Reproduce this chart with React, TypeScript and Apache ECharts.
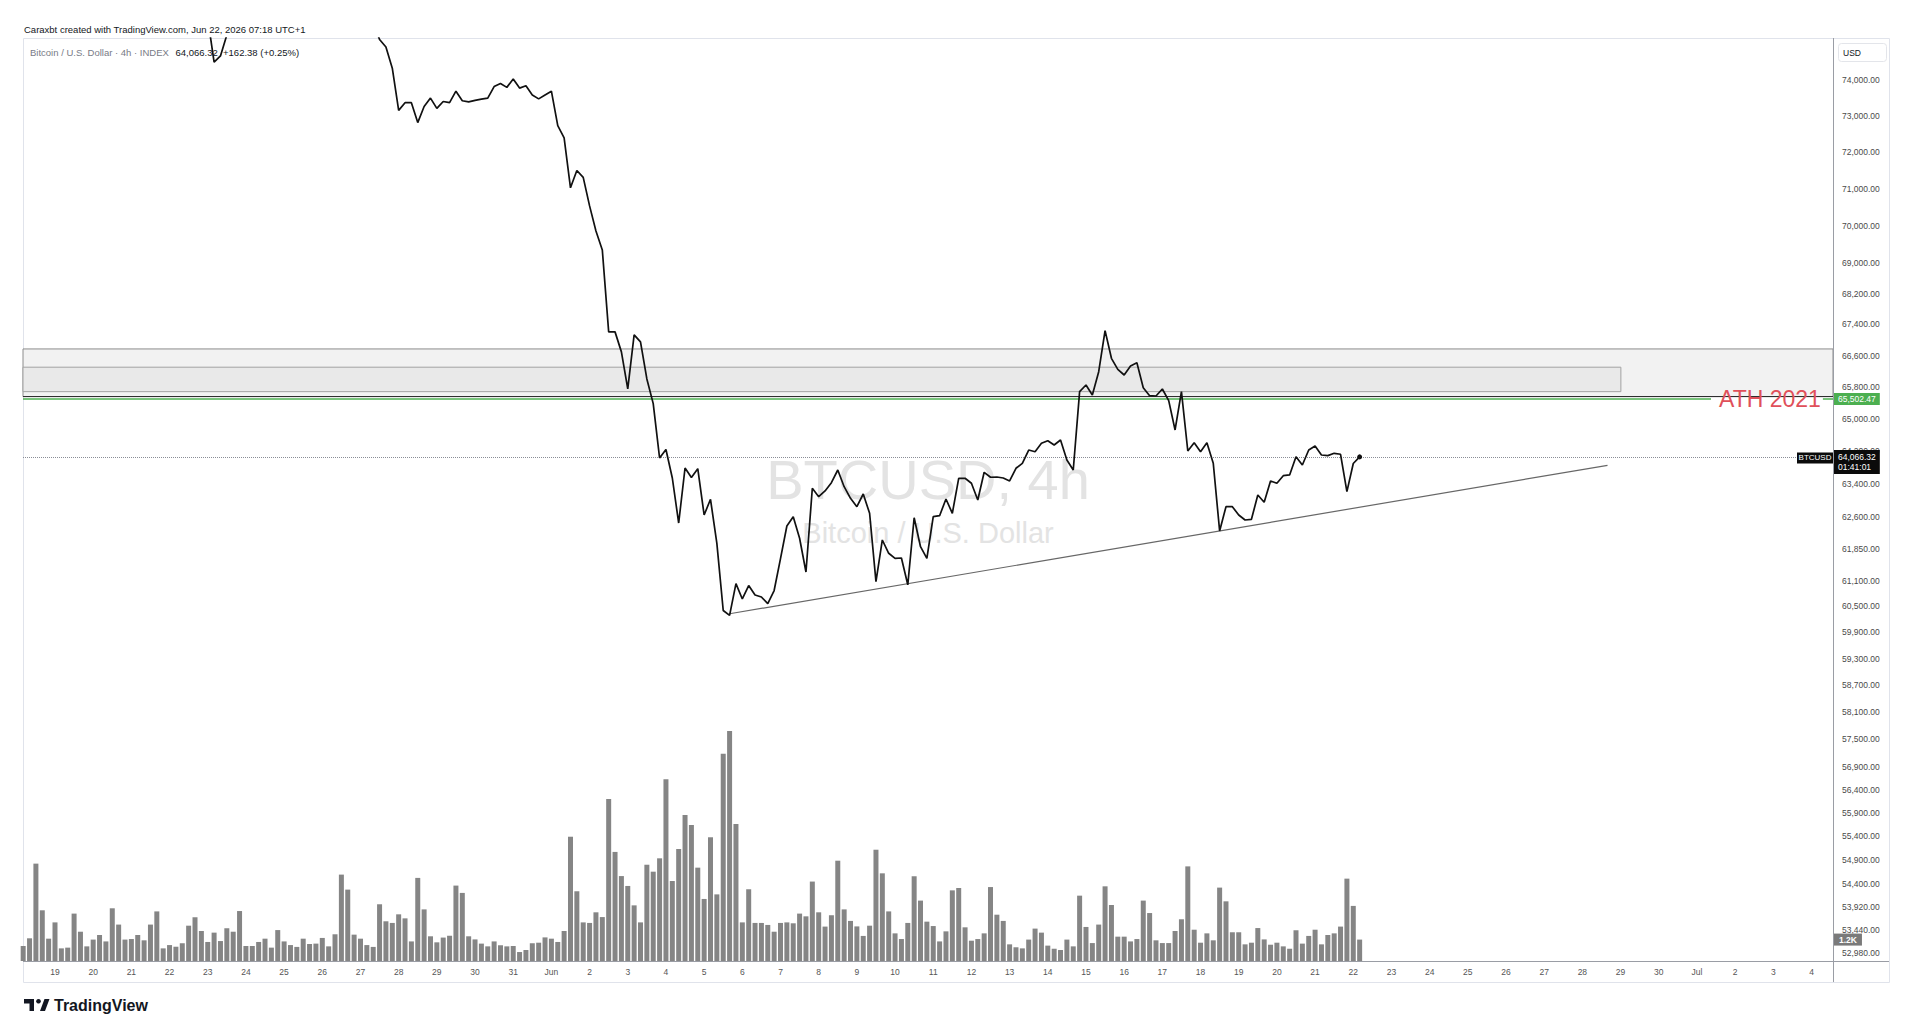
import React, { useEffect, useRef } from "react";
import * as echarts from "echarts";

const FONT = "'Liberation Sans', Arial, sans-serif";

// ---- time axis: days counted from May 18 00:00 (UTC+1); label sits on first 4h bar of the day (01:00)
const dayLabels = [
  "19", "20", "21", "22", "23", "24", "25", "26", "27", "28", "29", "30", "31",
  "Jun", "2", "3", "4", "5", "6", "7", "8", "9", "10", "11", "12", "13", "14", "15", "16",
  "17", "18", "19", "20", "21", "22", "23", "24", "25", "26", "27", "28", "29", "30",
  "Jul", "2", "3", "4",
];
const labelHourOffset = 1 / 24;
const barHours = 4;
const lastBarDay = 35 + 5 / 24; // Jun 22, 05:00

// ---- right price scale tick labels (log scale)
const priceTicks = [
  74000, 73000, 72000, 71000, 70000, 69000, 68200, 67400, 66600, 65800, 65000, 64200,
  63400, 62600, 61850, 61100, 60500, 59900, 59300, 58700, 58100, 57500, 56900, 56400,
  55900, 55400, 54900, 54400, 53920, 53440, 52980,
];
const priceMin = 52818;
const priceMax = 75214;

// ---- 4h closes, BTCUSD
const closes = [
  76800, 76950, 77200, 77050, 76900, 77100, 77350, 77200, 77000, 76850,
  76700, 76900, 77150, 77300, 77100, 76950, 76800, 76650, 76500, 76700,
  76900, 76750, 76600, 76400, 76550, 76300, 76450, 76200, 76000, 75780,
  74520, 74700, 75300, 75800, 76100, 76350, 76500, 76300, 76600, 76800,
  77000, 76850, 76700, 76900, 77100, 76950, 76800, 76600, 76750, 76500,
  76350, 76500, 76300, 76100, 75900, 75650,
  75171, 74953, 74349, 73157, 73373, 73373, 72817, 73267, 73503, 73213,
  73407, 73373, 73697, 73427, 73396, 73438, 73472, 73503, 73828, 73915,
  73805, 74045, 73785, 73850, 73590, 73481, 73590, 73697, 72730, 72391,
  71020, 71493, 71304, 70530, 69857, 69351, 67208, 67208, 66695, 65756,
  67130, 66950, 66008, 65387, 64039, 64248, 63550, 62464, 63794, 63562,
  63777, 62656, 63034, 61978, 60406, 60293, 61031, 60673, 60985, 60766,
  60719, 60565, 60870, 61616, 62393, 62615, 62100, 61303, 63300, 63097,
  63235, 63436, 63745, 63339, 63058, 62856, 63162, 62697, 61076, 62059,
  61744, 61625, 61632, 61003, 62591, 61900, 61625, 62615, 62639, 63041,
  62697, 63543, 63543, 63422, 63017, 63689, 63568, 63575, 63550, 63478,
  63787, 63909, 64235, 64193, 64401, 64465, 64359, 64482, 63990, 63745,
  65686, 65855, 65603, 66191, 67239, 66531, 66251, 66107, 66336, 66419,
  65787, 65585, 65578, 65754, 65460, 64730, 65686, 64210, 64415, 64193,
  64415, 63909, 62273, 62856, 62856, 62656, 62536, 62553, 63138, 62962,
  63478, 63422, 63606, 63624, 64071, 63868, 64235, 64334, 64113, 64096,
  64154, 64130, 63218, 63903.94, 64066.32,
];

// ---- 4h volume (K)
const volumes = [
  0.82, 1.24, 5.32, 2.77, 1.22, 2.11, 0.69, 0.73, 2.59, 1.6,
  0.8, 1.17, 1.42, 1.07, 2.88, 1.99, 1.17, 1.2, 1.42, 1.13,
  1.99, 2.71, 0.69, 0.87, 0.78, 0.97, 1.93, 2.39, 1.64, 1.04,
  1.55, 1.09, 1.79, 1.6, 2.73, 0.82, 0.82, 1.04, 1.22, 0.73,
  1.69, 1.07, 0.87, 0.77, 1.22, 0.93, 0.95, 1.26, 0.8, 1.46,
  4.72, 3.9, 1.44, 1.22, 0.87, 0.77, 3.1, 2.17, 2.08, 2.55,
  2.33, 1.07, 4.54, 2.82, 1.35, 1.02, 1.28, 1.38, 4.12, 3.72,
  1.35, 1.18, 0.95, 0.8, 1.07, 0.86, 0.8, 0.82, 0.49, 0.6,
  0.97, 1.0, 1.29, 1.22, 1.04, 1.64, 6.79, 3.81, 2.11, 2.08,
  2.66, 2.4, 8.85, 5.96, 4.64, 4.1, 3.04, 2.11, 5.26, 4.88,
  5.61, 9.93, 4.37, 6.12, 7.98, 7.43, 5.1, 3.39, 6.76, 3.64,
  11.33, 12.57, 7.49, 2.11, 3.92, 2.08, 2.08, 1.97, 1.6, 2.08,
  2.11, 2.06, 2.59, 2.44, 4.34, 2.66, 1.88, 2.5, 5.48, 2.82,
  2.19, 1.89, 1.37, 1.93, 6.08, 4.79, 2.71, 1.51, 1.2, 2.08,
  4.63, 3.3, 2.15, 1.91, 1.07, 1.62, 3.86, 3.99, 1.84, 1.11,
  1.2, 1.51, 4.04, 2.53, 2.19, 0.91, 0.75, 0.69, 1.17, 1.77,
  1.55, 0.84, 0.67, 0.6, 1.17, 0.8, 3.57, 1.86, 0.98, 1.99,
  4.08, 3.06, 1.33, 1.33, 1.07, 1.2, 3.3, 2.62, 1.13, 0.98,
  0.98, 1.64, 2.28, 5.17, 1.71, 1.0, 1.51, 1.13, 4.01, 3.26,
  1.57, 1.57, 0.91, 1.0, 1.8, 1.18, 0.89, 1.0, 0.8, 0.67,
  1.68, 0.95, 1.37, 1.71, 0.91, 1.42, 1.51, 1.88, 4.5, 3.01,
  1.17,
];
const volumeMax = 14.26;

// ---- drawings
const zoneOuter = { top: 66770, bottom: 65560 };
const zoneInner = { top: 66305, bottom: 65687, endDay: 42.05 };
const ath2021 = 65502.47;
const athLineEndDay = 44.41;
const athStubStartDay = 47.34;
const trendLine: [number, number][] = [
  [18.708, 60330],
  [41.7, 63860],
];
const lastPrice = 64066.32;
const priceChange = 162.38;
const priceChangePct = 0.25;
const countdown = "01:41:01";

const xMin = 0.2037;
const xMax = 47.605;

const L = Math.log;
const fmt = (p: number) =>
  p.toLocaleString("en-US", { minimumFractionDigits: 2, maximumFractionDigits: 2 });
const barDay = (i: number, n: number) => lastBarDay - ((n - 1 - i) * barHours) / 24;

function buildOption() {
  const n = closes.length;
  const priceData = closes.map((p, i) =>
    i === n - 1
      ? { value: [barDay(i, n), L(p)], symbol: "circle", symbolSize: 5 }
      : [barDay(i, n), L(p)]
  );
  const volData = volumes.map((v, i) => [barDay(i, volumes.length), v]);
  const lastVol = volumes[volumes.length - 1];
  const dayTickValues = dayLabels.map((_, i) => i + 1 + labelHourOffset);

  const txt = (
    text: string,
    x: number,
    y: number,
    size: number,
    fill: string,
    extra: any = {}
  ) => ({
    type: "text",
    x,
    y,
    silent: true,
    z: extra.z ?? 10,
    style: {
      text,
      fill,
      fontSize: size,
      fontFamily: extra.family ?? FONT,
      fontWeight: extra.weight ?? "normal",
      align: extra.align ?? "left",
      textAlign: extra.align ?? "left",
      verticalAlign: "middle",
      textVerticalAlign: "middle",
    },
  });

  return {
    animation: false,
    backgroundColor: "#ffffff",
    textStyle: { fontFamily: FONT },
    grid: [
      { left: 23, right: 87, top: 38, bottom: 65 },
      { left: 23, right: 87, top: 700, bottom: 65 },
    ],
    xAxis: [
      {
        type: "value",
        gridIndex: 0,
        min: xMin,
        max: xMax,
        axisLine: { show: false },
        axisTick: { show: false },
        splitLine: { show: false },
        axisLabel: {
          customValues: dayTickValues,
          formatter: (v: number) => dayLabels[Math.round(v - labelHourOffset) - 1] ?? "",
          color: "#555555",
          fontSize: 8.5,
          margin: 6,
          fontFamily: FONT,
        },
      },
      { type: "value", gridIndex: 1, min: xMin, max: xMax, show: false },
    ],
    yAxis: [
      {
        type: "value",
        gridIndex: 0,
        position: "right",
        min: L(priceMin),
        max: L(priceMax),
        axisLine: { show: false },
        axisTick: { show: false },
        splitLine: { show: false },
        axisLabel: {
          customValues: priceTicks.map(L),
          formatter: (v: number) => fmt(Math.exp(v)),
          color: "#4a4a4a",
          fontSize: 8.5,
          margin: 9,
          fontFamily: FONT,
        },
      },
      { type: "value", gridIndex: 1, min: 0, max: volumeMax, show: false },
    ],
    series: [
      {
        name: "zones",
        type: "line",
        xAxisIndex: 0,
        yAxisIndex: 0,
        data: [],
        z: 1,
        silent: true,
        markArea: {
          silent: true,
          data: [
            [
              {
                yAxis: L(zoneOuter.top),
                itemStyle: { color: "#f2f2f2", borderColor: "#8c8c8c", borderWidth: 1 },
              },
              { yAxis: L(zoneOuter.bottom) },
            ],
            [
              {
                xAxis: xMin,
                yAxis: L(zoneInner.top),
                itemStyle: { color: "#e9e9e9", borderColor: "#a3a3a3", borderWidth: 1 },
              },
              { xAxis: zoneInner.endDay, yAxis: L(zoneInner.bottom) },
            ],
          ],
        },
        markLine: {
          silent: true,
          precision: 10,
          symbol: ["none", "none"],
          data: [
            {
              yAxis: L(zoneOuter.bottom),
              lineStyle: { color: "#2e2e2e", width: 1, type: "solid" },
              label: { show: false },
            },
            [
              {
                coord: [xMin, L(ath2021)],
                lineStyle: { color: "#4caf50", width: 1.5, type: "solid" },
                label: {
                  show: true,
                  position: "end",
                  distance: 8,
                  formatter: "ATH 2021",
                  color: "#e0505a",
                  fontSize: 23,
                  fontFamily: FONT,
                },
              },
              { coord: [athLineEndDay, L(ath2021)] },
            ],
            [
              {
                coord: [athStubStartDay, L(ath2021)],
                lineStyle: { color: "#4caf50", width: 1.5, type: "solid" },
                label: {
                  show: true,
                  position: "end",
                  distance: 1,
                  formatter: fmt(ath2021),
                  color: "#ffffff",
                  backgroundColor: "#4caf50",
                  padding: [2, 4, 1, 4],
                  fontSize: 8.5,
                  fontFamily: FONT,
                },
              },
              { coord: [xMax, L(ath2021)] },
            ],
          ],
        },
      },
      {
        name: "trend",
        type: "line",
        xAxisIndex: 0,
        yAxisIndex: 0,
        data: trendLine.map(([d, p]) => [d, L(p)]),
        symbol: "none",
        lineStyle: { color: "#676767", width: 1.2 },
        z: 3,
        silent: true,
      },
      {
        name: "BTCUSD",
        type: "line",
        xAxisIndex: 0,
        yAxisIndex: 0,
        data: priceData,
        symbol: "none",
        showAllSymbol: true,
        lineStyle: { color: "#111111", width: 1.7 },
        itemStyle: { color: "#111111" },
        clip: true,
        z: 5,
        markLine: {
          silent: true,
          precision: 10,
          symbol: ["none", "none"],
          data: [
            {
              yAxis: L(lastPrice),
              lineStyle: { color: "#8a8d96", width: 1, type: "dotted" },
              label: {
                show: true,
                position: "end",
                distance: 1,
                formatter: `${fmt(lastPrice)}\n${countdown}`,
                color: "#ffffff",
                backgroundColor: "#0b0b0b",
                padding: [2, 4, 2, 4],
                lineHeight: 10,
                fontSize: 8.5,
                offset: [0, 5],
                fontFamily: FONT,
              },
            },
          ],
        },
        markPoint: {
          silent: true,
          data: [
            {
              coord: [xMax, L(lastPrice)],
              symbol: "rect",
              symbolSize: [36, 11],
              symbolOffset: [-18, 1],
              itemStyle: { color: "#0b0b0b" },
              label: {
                show: true,
                position: "inside",
                formatter: "BTCUSD",
                color: "#ffffff",
                fontSize: 8,
                fontFamily: FONT,
              },
            },
          ],
        },
      },
      {
        name: "Volume",
        type: "bar",
        xAxisIndex: 1,
        yAxisIndex: 1,
        data: volData,
        barWidth: 5,
        itemStyle: { color: "#858585" },
        z: 2,
        silent: true,
        markLine: {
          silent: true,
          precision: 10,
          symbol: ["none", "none"],
          data: [
            {
              yAxis: lastVol,
              lineStyle: { color: "rgba(0,0,0,0)", width: 1 },
              label: {
                show: true,
                position: "end",
                distance: 1,
                formatter: `${lastVol.toFixed(1)}K`,
                color: "#ffffff",
                backgroundColor: "#7a7a7a",
                padding: [2, 5, 1, 5],
                fontSize: 8.5,
                fontWeight: "bold",
                fontFamily: FONT,
              },
            },
          ],
        },
      },
    ],
    graphic: [
      // watermark
      { ...txt("BTCUSD, 4h", 928, 479, 56, "#e3e3e3", { align: "center", z: 0 }) },
      { ...txt("Bitcoin / U.S. Dollar", 928, 533, 29, "#e3e3e3", { align: "center", z: 0 }) },
      // frame
      {
        type: "rect",
        silent: true,
        z: 0,
        shape: { x: 23.5, y: 38.5, width: 1866, height: 944 },
        style: { fill: "none", stroke: "#e0e3eb", lineWidth: 1 },
      },
      {
        type: "line",
        silent: true,
        z: 20,
        shape: { x1: 23, y1: 961.5, x2: 1889, y2: 961.5 },
        style: { stroke: "#9a9da5", lineWidth: 1 },
      },
      {
        type: "line",
        silent: true,
        z: 20,
        shape: { x1: 1833.5, y1: 38, x2: 1833.5, y2: 982 },
        style: { stroke: "#9a9da5", lineWidth: 1 },
      },
      // USD box
      {
        type: "rect",
        silent: true,
        z: 10,
        shape: { x: 1838.5, y: 43.5, width: 48, height: 18, r: 3 },
        style: { fill: "#ffffff", stroke: "#e3e5ea", lineWidth: 1 },
      },
      { ...txt("USD", 1843, 53, 8.5, "#131722") },
      // header
      {
        ...txt("Caraxbt created with TradingView.com, Jun 22, 2026 07:18 UTC+1", 24, 29, 9.5, "#131722"),
      },
      {
        type: "text",
        x: 30,
        y: 52,
        silent: true,
        z: 10,
        style: {
          text: `{a|Bitcoin / U.S. Dollar · 4h · INDEX}  {b|${fmt(lastPrice)}  +${priceChange.toFixed(2)} (+${priceChangePct.toFixed(2)}%)}`,
          verticalAlign: "middle",
          textVerticalAlign: "middle",
          rich: {
            a: { fill: "#787b86", fontSize: 9.5, fontFamily: FONT },
            b: { fill: "#131722", fontSize: 9.5, fontFamily: FONT },
          },
        },
      },
      // TradingView logo
      {
        type: "group",
        silent: true,
        z: 10,
        children: [
          { type: "rect", shape: { x: 24, y: 999, width: 10, height: 4.5 }, style: { fill: "#131722" } },
          { type: "rect", shape: { x: 29.5, y: 999, width: 4.5, height: 12 }, style: { fill: "#131722" } },
          { type: "circle", shape: { cx: 38.5, cy: 1001.3, r: 2.3 }, style: { fill: "#131722" } },
          {
            type: "polygon",
            shape: { points: [[40, 1011], [44.5, 999], [49.5, 999], [45, 1011]] },
            style: { fill: "#131722" },
          },
        ],
      },
      { ...txt("TradingView", 54, 1005.5, 16, "#131722", { weight: 600 }) },
    ],
  };
}

export default function App() {
  const ref = useRef<HTMLDivElement>(null);
  useEffect(() => {
    if (!ref.current) return;
    const chart = echarts.init(ref.current, null, { renderer: "svg" });
    chart.setOption(buildOption() as any);
    return () => chart.dispose();
  }, []);
  return (
    <div
      ref={ref}
      style={{ position: "fixed", left: 0, top: 0, width: 1920, height: 1026, background: "#ffffff" }}
    />
  );
}
